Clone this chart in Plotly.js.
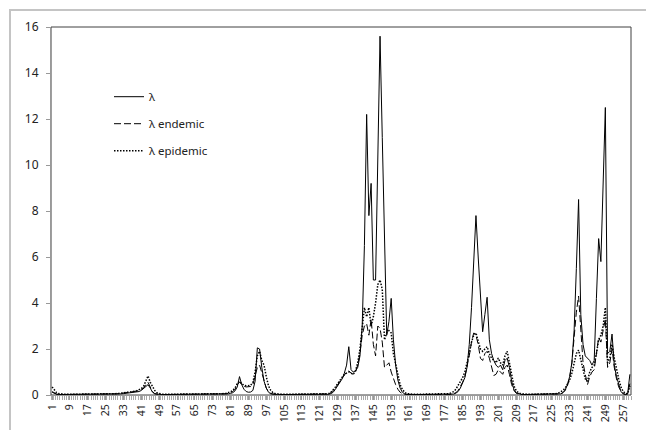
<!DOCTYPE html>
<html><head><meta charset="utf-8">
<script src="https://cdn.plot.ly/plotly-3.0.1.min.js"></script>
<style>
html,body{margin:0;padding:0;background:#fff;}
#wrap{position:relative;width:646px;height:430px;overflow:hidden;background:#fff;}
#frame{position:absolute;left:9px;top:9px;width:700px;height:500px;border-left:2px solid #c4c4c4;border-top:2px solid #c4c4c4;}
#chart{position:absolute;left:0;top:0;width:646px;height:430px;}
</style></head><body>
<div id="wrap"><div id="frame"></div><div id="chart"></div></div>
<script>
// series values, one per category (1..260)
const lambda = [
0.12,0.06,0.03,0.02,0.02,0.02,0.02,0.02,0.02,0.02,
0.02,0.02,0.02,0.02,0.02,0.02,0.02,0.02,0.02,0.02,
0.02,0.02,0.02,0.02,0.02,0.02,0.02,0.02,0.02,0.03,
0.04,0.05,0.06,0.07,0.08,0.09,0.10,0.11,0.13,0.15,
0.20,0.28,0.40,0.45,0.30,0.12,0.05,0.03,0.02,0.02,
0.02,0.02,0.02,0.02,0.02,0.02,0.02,0.02,0.02,0.02,
0.02,0.02,0.02,0.02,0.02,0.02,0.02,0.02,0.02,0.02,
0.02,0.02,0.02,0.02,0.02,0.02,0.02,0.03,0.04,0.05,
0.07,0.10,0.18,0.35,0.80,0.45,0.25,0.15,0.12,0.13,
0.20,0.60,2.05,2.00,1.20,0.60,0.30,0.12,0.05,0.03,
0.02,0.02,0.02,0.02,0.02,0.02,0.02,0.02,0.02,0.02,
0.02,0.02,0.02,0.02,0.02,0.02,0.02,0.02,0.02,0.02,
0.02,0.02,0.02,0.02,0.03,0.06,0.12,0.25,0.40,0.55,
0.70,0.95,1.30,2.10,1.10,1.00,1.05,1.20,1.70,3.00,
6.50,12.2,7.80,9.20,5.00,5.00,10.3,15.6,11.2,6.80,
2.60,3.20,4.20,2.40,1.30,0.65,0.30,0.12,0.05,0.03,
0.02,0.02,0.02,0.02,0.02,0.02,0.02,0.02,0.02,0.02,
0.02,0.02,0.02,0.02,0.02,0.02,0.02,0.02,0.02,0.02,
0.04,0.08,0.15,0.30,0.50,0.75,1.20,2.20,3.80,6.00,
7.80,6.00,4.30,2.75,3.50,4.25,2.40,1.80,1.50,1.30,
1.20,1.30,1.10,1.50,1.60,1.20,0.60,0.25,0.10,0.05,
0.03,0.02,0.02,0.02,0.02,0.02,0.02,0.02,0.02,0.02,
0.02,0.02,0.02,0.02,0.02,0.02,0.02,0.03,0.05,0.10,
0.22,0.45,0.80,1.40,2.80,5.50,8.50,3.50,2.20,1.70,
1.60,1.50,1.30,1.50,4.20,6.80,5.80,9.20,12.5,1.80,
1.90,2.65,1.30,0.80,0.45,0.15,0.05,0.02,0.05,0.90
];
const lambdaEndemic = [
0.15,0.08,0.04,0.02,0.02,0.02,0.02,0.02,0.02,0.02,
0.02,0.02,0.02,0.02,0.02,0.02,0.02,0.02,0.02,0.02,
0.02,0.02,0.02,0.02,0.02,0.02,0.03,0.03,0.04,0.05,
0.06,0.07,0.08,0.09,0.10,0.11,0.13,0.15,0.17,0.20,
0.25,0.30,0.45,0.55,0.35,0.15,0.06,0.03,0.02,0.02,
0.02,0.02,0.02,0.02,0.02,0.02,0.02,0.02,0.02,0.02,
0.02,0.02,0.02,0.02,0.02,0.02,0.02,0.02,0.02,0.02,
0.02,0.02,0.02,0.02,0.02,0.02,0.03,0.04,0.05,0.07,
0.10,0.15,0.25,0.45,0.55,0.45,0.38,0.35,0.35,0.37,
0.45,0.80,1.20,1.30,1.00,0.60,0.30,0.15,0.07,0.04,
0.03,0.02,0.02,0.02,0.02,0.02,0.02,0.02,0.02,0.02,
0.02,0.02,0.02,0.02,0.02,0.02,0.02,0.02,0.02,0.02,
0.02,0.02,0.02,0.02,0.05,0.10,0.20,0.30,0.45,0.60,
0.75,0.90,1.00,1.05,0.95,0.90,1.00,1.30,1.80,2.60,
3.00,3.10,2.60,3.30,2.20,1.70,3.00,2.90,2.30,1.20,
1.30,1.40,1.00,0.70,0.45,0.25,0.12,0.06,0.03,0.02,
0.02,0.02,0.02,0.02,0.02,0.02,0.02,0.02,0.02,0.02,
0.02,0.02,0.02,0.02,0.02,0.02,0.02,0.02,0.02,0.03,
0.06,0.10,0.20,0.35,0.55,0.80,1.20,1.70,2.30,2.70,
2.60,2.20,1.60,1.50,1.80,1.90,1.60,1.20,0.85,0.90,
1.10,1.00,0.90,1.20,1.30,0.90,0.45,0.20,0.08,0.04,
0.02,0.02,0.02,0.02,0.02,0.02,0.02,0.02,0.02,0.02,
0.02,0.02,0.02,0.02,0.02,0.02,0.02,0.03,0.05,0.10,
0.20,0.40,0.75,1.40,2.50,3.60,4.30,2.60,1.40,0.90,
0.45,0.80,1.00,1.10,1.90,2.50,2.30,2.90,3.30,1.20,
1.40,2.00,1.20,0.70,0.35,0.15,0.06,0.03,0.05,0.50
];
const lambdaEpidemic = [
0.35,0.20,0.10,0.06,0.04,0.03,0.03,0.03,0.03,0.03,
0.03,0.03,0.03,0.03,0.03,0.03,0.03,0.03,0.03,0.03,
0.03,0.03,0.03,0.03,0.03,0.04,0.04,0.05,0.05,0.06,
0.07,0.08,0.09,0.10,0.11,0.12,0.14,0.16,0.19,0.22,
0.28,0.38,0.60,0.83,0.55,0.35,0.20,0.10,0.06,0.04,
0.03,0.03,0.03,0.03,0.03,0.03,0.03,0.03,0.03,0.03,
0.03,0.03,0.03,0.03,0.03,0.03,0.03,0.03,0.03,0.03,
0.03,0.03,0.03,0.03,0.03,0.04,0.05,0.06,0.08,0.10,
0.14,0.20,0.30,0.50,0.60,0.50,0.42,0.40,0.40,0.42,
0.55,1.00,1.70,1.90,1.50,1.30,0.80,0.40,0.20,0.10,
0.06,0.04,0.03,0.03,0.03,0.03,0.03,0.03,0.03,0.03,
0.03,0.03,0.03,0.03,0.03,0.03,0.03,0.03,0.03,0.03,
0.03,0.03,0.03,0.03,0.06,0.12,0.22,0.35,0.50,0.65,
0.80,0.90,0.95,1.00,0.95,0.90,1.05,1.40,2.00,2.90,
3.80,3.40,3.80,3.00,3.40,4.00,4.80,5.00,4.60,2.40,
2.70,2.80,2.70,1.80,1.30,0.80,0.45,0.25,0.12,0.06,
0.04,0.03,0.03,0.03,0.03,0.03,0.03,0.03,0.03,0.03,
0.03,0.03,0.03,0.03,0.03,0.03,0.03,0.04,0.06,0.10,
0.15,0.25,0.40,0.55,0.75,1.00,1.35,1.80,2.30,2.60,
2.70,2.30,2.00,1.90,2.00,2.10,1.80,1.60,1.50,1.40,
1.60,1.40,1.30,1.70,1.90,1.40,0.80,0.40,0.20,0.10,
0.06,0.04,0.03,0.03,0.03,0.03,0.03,0.03,0.03,0.03,
0.03,0.03,0.03,0.03,0.03,0.04,0.06,0.09,0.13,0.20,
0.30,0.45,0.65,0.95,1.40,1.80,1.95,1.50,1.10,0.70,
0.60,1.00,1.20,1.30,1.80,2.40,2.60,3.00,3.80,1.40,
1.60,2.20,1.60,1.10,0.70,0.35,0.15,0.07,0.05,0.40
];
const seriesNames = ['λ', 'λ endemic', 'λ epidemic'];
const tickLabels = ['1','9','17','25','33','41','49','57','65','73','81','89','97','105','113','121','129','137','145','153','161','169','177','185','193','201','209','217','225','233','241','249','257'];
const yTicks = [0,2,4,6,8,10,12,14,16];

const categories = lambda.map((v, i) => i + 1);
const tickVals = tickLabels.map(Number);

const mk = (y, name, dash, width, grp) => ({
  type: 'scatter', mode: 'lines', x: categories, y: y, name: name,
  legendgroup: grp,
  line: {color: '#000', width: width, dash: dash}
});

const data = [
  mk(lambda, seriesNames[0], 'solid', 1, 'a'),
  mk(lambdaEndemic, seriesNames[1], '7px,3px', 1, 'b'),
  mk(lambdaEpidemic, seriesNames[2], '1.5px,1.5px', 1.5, 'c')
];

const layout = {
  width: 646, height: 430,
  margin: {l: 50.5, r: 15, t: 27, b: 35, pad: 0},
  paper_bgcolor: 'rgba(0,0,0,0)',
  plot_bgcolor: '#fff',
  font: {family: 'Noto Sans, DejaVu Sans, sans-serif', size: 11, color: '#222'},
  showlegend: true,
  legend: {
    x: 0.1, y: 0.85, xanchor: 'left', yanchor: 'top',
    bgcolor: 'rgba(0,0,0,0)', borderwidth: 0,
    font: {size: 11.5, color: '#222'},
    tracegroupgap: 8, itemwidth: 30
  },
  xaxis: {
    range: [0.5, 260.5], tickmode: 'array', tickvals: tickVals, ticktext: tickLabels,
    tickangle: -90, ticks: 'outside', ticklen: 4, tickcolor: '#999',
    minor: {dtick: 1, tick0: 0.5, ticks: 'outside', ticklen: 4, tickcolor: '#aaa', showgrid: false},
    showline: true, linecolor: '#999', linewidth: 1,
    showgrid: false, zeroline: false, automargin: false,
    tickfont: {size: 10.5, color: '#222'}
  },
  yaxis: {
    range: [0, 16], tickmode: 'array', tickvals: yTicks,
    ticks: 'outside', ticklen: 4, tickcolor: '#999', ticklabelstandoff: 5,
    showline: true, linecolor: '#999', linewidth: 1,
    showgrid: false, zeroline: false, automargin: false,
    tickfont: {size: 12, color: '#222'}
  },
  shapes: [{type: 'rect', xref: 'paper', yref: 'paper', x0: 0, x1: 1, y0: 0, y1: 1,
    line: {color: '#404040', width: 1}, layer: 'below'}]
};

Plotly.newPlot('chart', data, layout, {displayModeBar: false, staticPlot: true});
</script>
</body></html>
